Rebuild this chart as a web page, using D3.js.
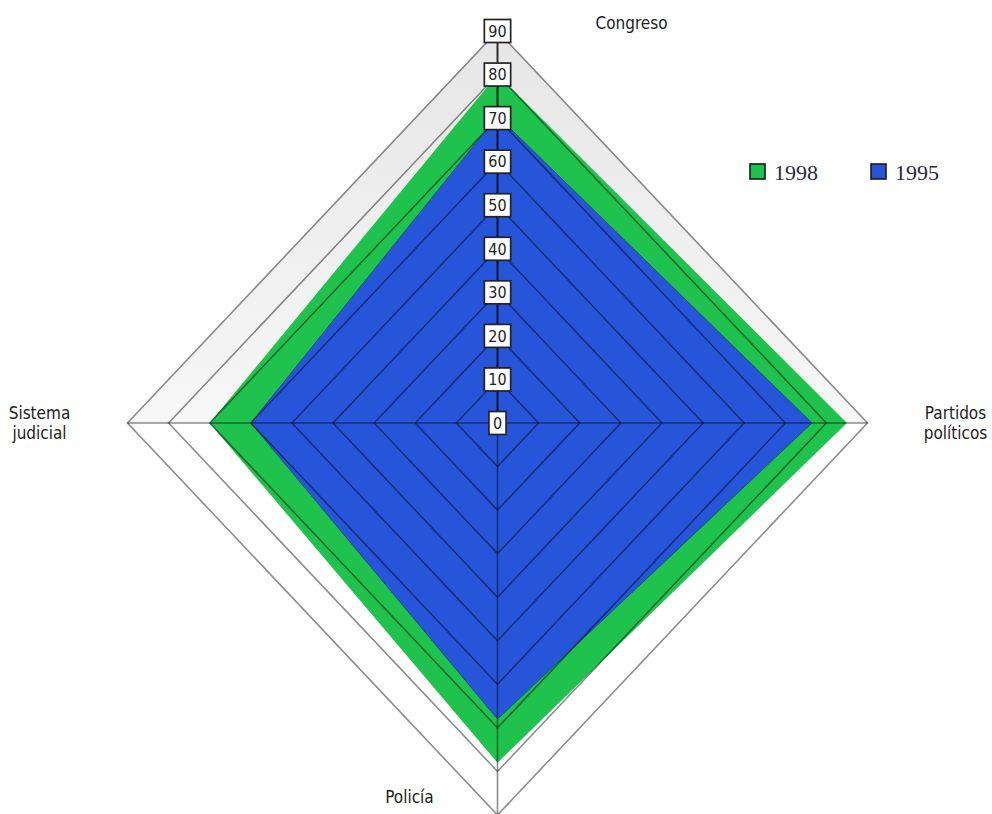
<!DOCTYPE html>
<html>
<head>
<meta charset="utf-8">
<script src="https://cdn.jsdelivr.net/npm/d3@7"></script>
<style>
  html, body { margin: 0; padding: 0; background: #ffffff; }
  svg { display: block; }
  .axis-label { font-family: "Liberation Sans Narrow", "DejaVu Sans Condensed", "Roboto", sans-serif; font-size: 17px; fill: #222; }
  .tick-label { font-family: "Liberation Sans Narrow", "DejaVu Sans Condensed", sans-serif; font-size: 16px; fill: #222; }
  .legend-label { font-family: "Liberation Serif", "DejaVu Serif", serif; font-size: 22px; fill: #2a2a3a; }
</style>
</head>
<body>
<svg id="chart" width="992" height="814"></svg>
<script>
// Confidence in institutions, two survey years
const categories = ["Congreso", "Partidos políticos", "Policía", "Sistema judicial"];
const values1998 = [80, 85, 78, 70];
const values1995 = [70.5, 76.5, 68, 60];
const tickValues = [0, 10, 20, 30, 40, 50, 60, 70, 80, 90];
const seriesNames = ["1998", "1995"];
const seriesColors = ["#1fc24d", "#2655d9"];

const width = 992, height = 814;
const cx = 497.5, cy = 423;
const maxValue = 90;

// horizontal and vertical radial scales (the plot is slightly taller than wide)
const rx = d3.scaleLinear().domain([0, maxValue]).range([0, 370]);
const ry = d3.scaleLinear().domain([0, maxValue]).range([0, 392]);

const angles = categories.map((_, i) => -Math.PI / 2 + i * Math.PI / 2);
const pt = (v, i) => [cx + rx(v) * Math.cos(angles[i]), cy + ry(v) * Math.sin(angles[i])];

const svg = d3.select("#chart");
const line = d3.line().curve(d3.curveLinearClosed);

// background shading: upper half light grey gradient, lower half white
const defs = svg.append("defs");
const grad = defs.append("linearGradient")
  .attr("id", "bgGrad")
  .attr("gradientUnits", "userSpaceOnUse")
  .attr("x1", 0).attr("y1", cy - ry(maxValue))
  .attr("x2", 0).attr("y2", cy);
grad.append("stop").attr("offset", "0%").attr("stop-color", "#e6e6e6");
grad.append("stop").attr("offset", "100%").attr("stop-color", "#f7f7f7");

const upperHalf = [pt(maxValue, 3), pt(maxValue, 0), pt(maxValue, 1)];
svg.append("path")
  .attr("d", line(upperHalf))
  .attr("fill", "url(#bgGrad)");

// series polygons
const seriesData = [values1998, values1995];
seriesData.forEach((vals, s) => {
  svg.append("path")
    .attr("d", line(vals.map((v, i) => pt(v, i))))
    .attr("fill", seriesColors[s])
    .attr("stroke", s === 1 ? "rgba(0,0,40,0.35)" : "none")
    .attr("stroke-width", 1);
});

// grid rings
const gridColor = "rgba(0,0,0,0.45)";
tickValues.filter(t => t > 0).forEach(t => {
  svg.append("path")
    .attr("d", line(categories.map((_, i) => pt(t, i))))
    .attr("fill", "none")
    .attr("stroke", gridColor)
    .attr("stroke-width", 1.6);
});

// axes through the center
categories.forEach((_, i) => {
  const [x, y] = pt(maxValue, i);
  svg.append("line")
    .attr("x1", cx).attr("y1", cy)
    .attr("x2", x).attr("y2", y)
    .attr("stroke", i === 0 ? "rgba(0,0,0,0.8)" : gridColor)
    .attr("stroke-width", i === 0 ? 2 : 1.6);
});

// value labels on the vertical axis
tickValues.forEach(t => {
  const [x, y] = pt(t, 0);
  const g = svg.append("g").attr("transform", `translate(${x},${y})`);
  const txt = g.append("text")
    .attr("class", "tick-label")
    .attr("text-anchor", "middle")
    .attr("dy", "0.36em")
    .text(t);
  const w = txt.node().getComputedTextLength() + 8;
  g.insert("rect", "text")
    .attr("x", -w / 2).attr("y", -11.5)
    .attr("width", w).attr("height", 23)
    .attr("fill", "#ffffff")
    .attr("stroke", "#222")
    .attr("stroke-width", 1.7);
});

// category labels
const labelPlacement = [
  { dx: 134, dy: -8, lines: ["Congreso"] },
  { dx: 88, dy: 0, lines: ["Partidos", "políticos"] },
  { dx: -88, dy: -18, lines: ["Policía"] },
  { dx: -88, dy: 0, lines: ["Sistema", "judicial"] }
];
categories.forEach((c, i) => {
  const [x, y] = pt(maxValue, i);
  const p = labelPlacement[i];
  const text = svg.append("text")
    .attr("class", "axis-label")
    .attr("text-anchor", "middle")
    .attr("x", x + p.dx)
    .attr("y", y + p.dy);
  const n = p.lines.length;
  p.lines.forEach((l, k) => {
    text.append("tspan")
      .attr("x", x + p.dx)
      .attr("dy", k === 0 ? `${0.35 - (n - 1) * 0.6}em` : "1.2em")
      .text(l);
  });
});

// legend
const legend = svg.append("g").attr("transform", "translate(750,164)");
seriesNames.forEach((name, s) => {
  const g = legend.append("g").attr("transform", `translate(${s * 121},0)`);
  g.append("rect")
    .attr("x", 0).attr("y", 0)
    .attr("width", 15).attr("height", 15)
    .attr("fill", seriesColors[s])
    .attr("stroke", "#1a1a1a")
    .attr("stroke-width", 1.6);
  g.append("text")
    .attr("class", "legend-label")
    .attr("x", 24).attr("y", 8)
    .attr("dy", "0.36em")
    .text(name);
});
</script>
</body>
</html>
